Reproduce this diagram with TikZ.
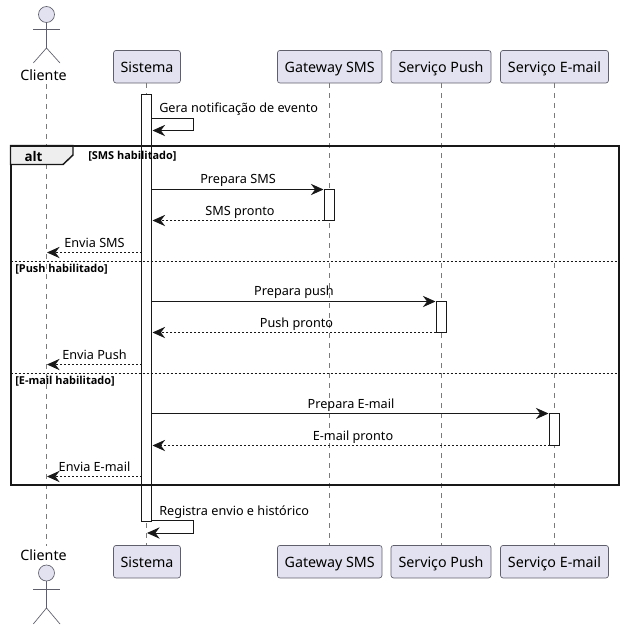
\documentclass[tikz,border=0pt]{standalone}
\usepackage{fontspec}
\setmainfont{Noto Sans}
\newfontfamily\boldf{Open Sans}
\usetikzlibrary{arrows.meta}
\definecolor{partfill}{HTML}{E2E2F0}
\definecolor{partline}{HTML}{5F5F6B}
\definecolor{ink}{HTML}{181818}
\definecolor{lifecol}{HTML}{7A7A7A}
\definecolor{tabfill}{HTML}{EEEEEE}
\tikzset{
  x=0.75pt,y=-0.75pt,
  part/.style={draw=partline,fill=partfill,rounded corners=1.9pt,line width=0.5pt,minimum height=24.4pt,inner xsep=0pt,inner ysep=0pt,text height=8pt,text depth=0pt,font=\fontsize{10.7}{12}\selectfont,text=black,anchor=center},
  actorname/.style={inner sep=0pt,font=\fontsize{10.7}{12}\selectfont,text=black},
  head/.style={circle,draw=partline,fill=partfill,line width=0.5pt,minimum size=12pt,inner sep=0pt},
  limb/.style={draw=partline,line width=0.5pt},
  lifeline/.style={draw=lifecol,line width=0.5pt,dash pattern=on 3.75pt off 3.75pt},
  actbar/.style={draw=ink,fill=white,line width=0.75pt,minimum width=7.5pt,inner sep=0pt},
  msg/.style={draw=ink,line width=0.75pt,-{Stealth[length=9.5pt,width=8.5pt,inset=3.2pt,color=ink]}},
  reply/.style={msg,dash pattern=on 1.5pt off 1.5pt},
  lab/.style={inner sep=0pt,yshift=-0.75pt,font=\fontsize{9.5}{11}\selectfont,text=black},
  guard/.style={inner sep=0pt,anchor=west,yshift=-0.4pt,font=\fontsize{8.2}{9}\boldf\bfseries,text=black},
  frameline/.style={draw=ink,line width=1.5pt},
  sepline/.style={draw=ink,line width=0.75pt,dash pattern=on 1.5pt off 1.5pt},
}
\begin{document}
\begin{tikzpicture}
\useasboundingbox (0,0) rectangle (624,629);
\fill[white] (0,0) rectangle (624,629);
% lifeline ends
\coordinate (clienteTop) at (46,84);
\coordinate (clienteBot) at (46,546);
% participants
\node[part,minimum width=50.2pt] (sistemaT) at (147,66.7) {Sistema};
\node[part,minimum width=78.4pt] (gatewayT) at (329.7,66.7) {Gateway SMS};
\node[part,minimum width=75pt] (pushT) at (441,66.7) {Serviço Push};
\node[part,minimum width=81pt] (emailT) at (554.5,66.7) {Serviço E-mail};
\node[part,minimum width=50.2pt] (sistemaB) at (147,561.7) {Sistema};
\node[part,minimum width=78.4pt] (gatewayB) at (329.7,561.7) {Gateway SMS};
\node[part,minimum width=75pt] (pushB) at (441,561.7) {Serviço Push};
\node[part,minimum width=81pt] (emailB) at (554.5,561.7) {Serviço E-mail};
% lifelines
\draw[lifeline] (clienteTop) -- (clienteBot);
\draw[lifeline] (146.5,83) -- (146.5,545);
\draw[lifeline] (329,83) -- (329,545);
\draw[lifeline] (441,83) -- (441,545);
\draw[lifeline] (554.3,83) -- (554.3,545);
% actors
\node[head] (headT) at (46.5,14.5) {};
\draw[limb] (headT.south) -- (46.5,48) coordinate (hipT);
\draw[limb] (33.3,29.3) -- (60,29.3);
\draw[limb] (33.3,63) -- (hipT) -- (60,63);
\node[actorname,fill=white,inner ysep=1pt] (clienteTopName) at (43.5,75) {Cliente};
\node[head] (headB) at (46.5,573) {};
\draw[limb] (headB.south) -- (46.5,608) coordinate (hipB);
\draw[limb] (33.3,589.3) -- (60,589.3);
\draw[limb] (33.3,624) -- (hipB) -- (60,624);
\node[actorname,fill=white,inner ysep=1pt] (clienteBotName) at (43.5,555) {Cliente};
% activations
\draw[actbar] (141.5,94.5) rectangle (151.5,521.5);
\draw[actbar] (324,189.5) rectangle (334,220.5);
\draw[actbar] (436,301.5) rectangle (446,332.5);
\draw[actbar] (549.5,413.5) rectangle (559.5,445.5);
% alt frame
\draw[frameline] (10.5,145.5) rectangle (618.5,484.5);
\draw[draw=ink,line width=1.1pt,fill=tabfill] (10.5,145.5) -- (73,145.5) -- (73,155) -- (63,164.5) -- (10.5,164.5) -- cycle;
\draw[frameline] (10.5,145.5) -- (73,145.5);
\node[inner sep=0pt,font=\fontsize{10}{11}\boldf\bfseries] (altlabel) at (33.5,156) {alt};
\node[guard] (g1) at (88,156) {[SMS habilitado]};
\draw[sepline] (10.5,261.5) -- (618.5,261.5);
\node[guard] (g2) at (15,269) {[Push habilitado]};
\draw[sepline] (10.5,373.5) -- (618.5,373.5);
\node[guard] (g3) at (15,381) {[E-mail habilitado]};
% messages
\draw[msg] (151.5,118) -- (193.5,118) -- (193.5,130.5) -- (152.5,130.5);
\node[lab,anchor=west] (m1) at (159,108.5) {Gera notificação de evento};
\draw[msg] (151.5,189.5) -- (323.5,189.5);
\node[lab] (m2) at (238,179.5) {Prepara SMS};
\draw[reply] (324,220.5) -- (152.5,220.5);
\node[lab] (m3) at (240,211) {SMS pronto};
\draw[reply] (141.5,252.5) -- (47,252.5);
\node[lab] (m4) at (94.5,242) {Envia SMS};
\draw[msg] (151.5,301.5) -- (435.5,301.5);
\node[lab] (m5) at (294,291.5) {Prepara push};
\draw[reply] (436,332.5) -- (152.5,332.5);
\node[lab] (m6) at (296.5,323) {Push pronto};
\draw[reply] (141.5,364.5) -- (47,364.5);
\node[lab] (m7) at (94.5,354) {Envia Push};
\draw[msg] (151.5,413.5) -- (548.5,413.5);
\node[lab] (m8) at (351,404.5) {Prepara E-mail};
\draw[reply] (549.5,445.5) -- (152.5,445.5);
\node[lab] (m9) at (353,436) {E-mail pronto};
\draw[reply] (141.5,476.5) -- (47,476.5);
\node[lab] (m10) at (94.5,466) {Envia E-mail};
\draw[msg] (151.5,520.5) -- (193.5,520.5) -- (193.5,533) -- (147,533);
\node[lab,anchor=west] (m11) at (159,511.5) {Registra envio e histórico};
\end{tikzpicture}
\end{document}
